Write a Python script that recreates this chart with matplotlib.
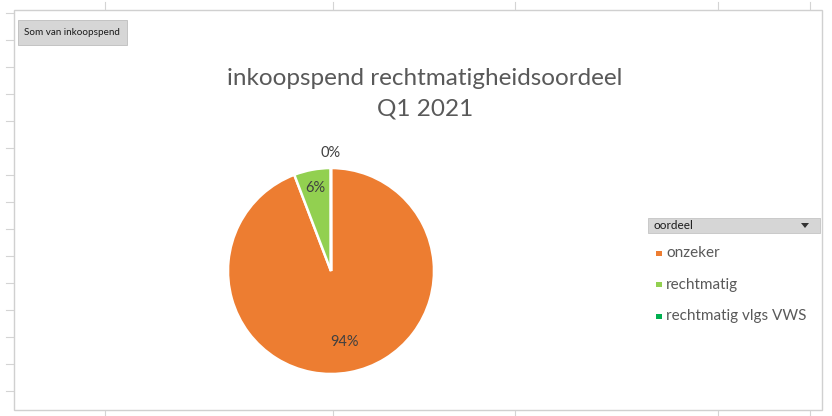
import numpy as np
import matplotlib.pyplot as plt
from matplotlib.patches import Rectangle, Polygon
from matplotlib.lines import Line2D

# data
categorieen = ['onzeker', 'rechtmatig', 'rechtmatig vlgs VWS']
aandeel = [94.2, 5.78, 0.02]
kleuren = ['#ED7D31', '#92D050', '#00B050']
label_afstand = [0.70, 0.82, 1.15]

titel = 'inkoopspend rechtmatigheidsoordeel\nQ1 2021'
veldknop = 'Som van inkoopspend'
legenda_titel = 'oordeel'

plt.rcParams['font.family'] = ['Lato', 'DejaVu Sans']

W, H = 832, 416
fig = plt.figure(figsize=(W / 100, H / 100), dpi=100)
fig.patch.set_facecolor('white')


def fx(x):
    return x / W


def fy(y):
    return 1 - y / H


# achtergrond van het werkblad: rasterstreepjes en kader
grijs = '#d4d4d4'
for y in range(13, 410, 27):
    fig.add_artist(Line2D([fx(6), fx(13)], [fy(y), fy(y)], color=grijs, lw=0.8, zorder=-10))
for x in [105, 333, 515, 718, 810]:
    fig.add_artist(Line2D([fx(x), fx(x)], [fy(2), fy(9)], color=grijs, lw=0.8, zorder=-10))
    fig.add_artist(Line2D([fx(x), fx(x)], [fy(411), fy(416)], color=grijs, lw=0.8, zorder=-10))
fig.add_artist(Rectangle((fx(14), fy(410)), fx(822 - 14), 400 / H,
                         facecolor='white', edgecolor='#d0d0d0', lw=1.0, zorder=-9))

# veldknop linksboven
fig.add_artist(Rectangle((fx(18), fy(45)), fx(127 - 18), 25 / H,
                         facecolor='#d6d6d6', edgecolor='#bdbdbd', lw=0.6))
fig.text(fx(24), fy(32.5), veldknop, fontsize=7.1, color='#1a1a1a', va='center')

# titel
fig.text(fx(425), fy(94), titel, ha='center', va='center', fontsize=17.5,
         color='#595959', linespacing=1.55)

# taartdiagram
ax = fig.add_axes([fx(228), fy(374), fx(206), 206 / H])
ax.set_zorder(5)
wedges, teksten, autoteksten = ax.pie(
    aandeel, colors=kleuren, startangle=90, counterclock=False,
    autopct='%1.0f%%', labels=None,
    wedgeprops=dict(edgecolor='white', linewidth=1.8),
    textprops=dict(fontsize=10.5, color='#404040'))
for w, t, d in zip(wedges, autoteksten, label_afstand):
    hoek = np.deg2rad((w.theta1 + w.theta2) / 2)
    t.set_position((d * np.cos(hoek), d * np.sin(hoek)))
ax.set_xlim(-1, 1)
ax.set_ylim(-1, 1)
ax.set_aspect('equal')
ax.axis('off')

# legenda met veldknop
fig.add_artist(Rectangle((fx(648), fy(233)), fx(820 - 648), 15 / H,
                         facecolor='#d6d6d6', edgecolor='#c4c4c4', lw=0.6))
fig.text(fx(653), fy(225.5), legenda_titel, fontsize=8.5, color='#1a1a1a', va='center')
fig.add_artist(Polygon([[fx(801), fy(223)], [fx(809), fy(223)], [fx(805), fy(228)]],
                       closed=True, facecolor='#333333', edgecolor='none'))
for i, (naam, kleur) in enumerate(zip(categorieen, kleuren)):
    y = 253 + i * 31.5
    fig.add_artist(Rectangle((fx(656), fy(y + 2.5)), 6 / W, 5 / H,
                             facecolor=kleur, edgecolor='none'))
    fig.text(fx(666), fy(y), naam, fontsize=11, color='#595959', va='center')

fig.savefig('out.png', dpi=100)
